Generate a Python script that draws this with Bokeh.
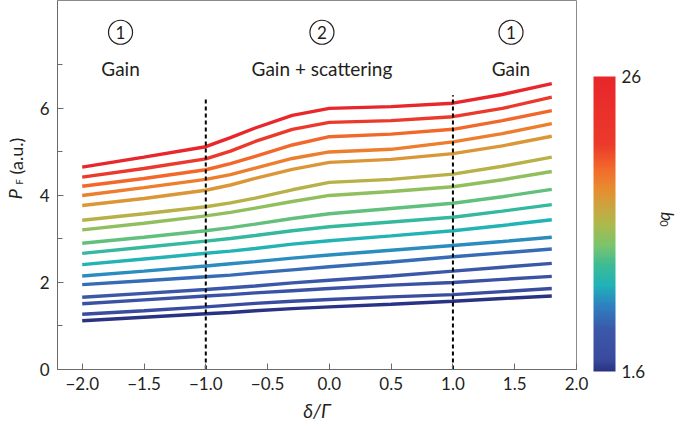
import math
from bokeh.plotting import figure
from bokeh.layouts import row
from bokeh.models import ColumnDataSource, LinearColorMapper, ColorBar, FixedTicker, Label
from bokeh.core.properties import value
from bokeh.embed import file_html
from bokeh.resources import INLINE

# ---------------- data ----------------
detuning = [-2.0, -1.5, -1.0, -0.8, -0.6, -0.3, 0.0, 0.5, 1.0, 1.4, 1.8]
b0 = [26.0, 20.6, 18.4, 17.4, 16.0, 14.3, 12.8, 11.4, 9.9, 8.9, 7.5, 6.0, 4.8, 3.8, 2.8, 1.6]

pf_01 = [4.65, 4.88, 5.12, 5.33, 5.55, 5.84, 6.00, 6.04, 6.12, 6.32, 6.57]
pf_02 = [4.42, 4.62, 4.84, 5.02, 5.24, 5.52, 5.68, 5.72, 5.81, 6.00, 6.26]
pf_03 = [4.21, 4.39, 4.59, 4.73, 4.90, 5.16, 5.35, 5.41, 5.52, 5.72, 5.95]
pf_04 = [4.00, 4.18, 4.37, 4.48, 4.63, 4.85, 5.00, 5.06, 5.23, 5.42, 5.65]
pf_05 = [3.77, 3.93, 4.12, 4.24, 4.39, 4.60, 4.76, 4.83, 4.96, 5.14, 5.36]
pf_06 = [3.43, 3.58, 3.74, 3.83, 3.94, 4.13, 4.30, 4.37, 4.49, 4.67, 4.88]
pf_07 = [3.21, 3.36, 3.53, 3.61, 3.71, 3.86, 4.00, 4.09, 4.20, 4.36, 4.55]
pf_08 = [2.90, 3.04, 3.19, 3.26, 3.34, 3.47, 3.58, 3.70, 3.82, 3.97, 4.14]
pf_09 = [2.67, 2.81, 2.95, 3.01, 3.08, 3.19, 3.28, 3.39, 3.50, 3.64, 3.79]
pf_10 = [2.41, 2.54, 2.67, 2.72, 2.78, 2.88, 2.96, 3.07, 3.19, 3.31, 3.44]
pf_11 = [2.15, 2.26, 2.38, 2.43, 2.48, 2.56, 2.63, 2.74, 2.85, 2.94, 3.04]
pf_12 = [1.95, 2.04, 2.13, 2.17, 2.22, 2.29, 2.36, 2.47, 2.59, 2.68, 2.77]
pf_13 = [1.66, 1.75, 1.84, 1.88, 1.92, 1.99, 2.05, 2.15, 2.26, 2.35, 2.44]
pf_14 = [1.51, 1.60, 1.69, 1.72, 1.76, 1.81, 1.86, 1.94, 2.00, 2.07, 2.14]
pf_15 = [1.27, 1.35, 1.44, 1.48, 1.52, 1.57, 1.61, 1.67, 1.72, 1.79, 1.86]
pf_16 = [1.12, 1.20, 1.28, 1.31, 1.35, 1.40, 1.44, 1.50, 1.57, 1.63, 1.69]

curves = [pf_01, pf_02, pf_03, pf_04, pf_05, pf_06, pf_07, pf_08,
          pf_09, pf_10, pf_11, pf_12, pf_13, pf_14, pf_15, pf_16]

boundaries = [-1.0, 1.0]
boundary_tops = [6.25, 6.30]

region_x = [-1.69, -0.06, 1.47]
region_num = ["1", "2", "1"]
region_name = ["Gain", "Gain + scattering", "Gain"]
region_num_y = 7.75
region_name_y = 6.92

x_ticks = [-2.0, -1.5, -1.0, -0.5, 0.0, 0.5, 1.0, 1.5, 2.0]
y_ticks = [0, 2, 4, 6]
y_minor = [1, 3, 5, 7]
b0_low, b0_high = 1.6, 26.0

# ---------------- colormap (style) ----------------
anchors = [(0.00, "#2a3383"), (0.04, "#3a4b9f"), (0.14, "#3b58a9"), (0.22, "#2f7fc1"),
           (0.29, "#20b2b8"), (0.36, "#3dbb95"), (0.43, "#7ec46b"), (0.50, "#aeb94c"),
           (0.56, "#cba43f"), (0.62, "#e88c30"), (0.69, "#f2682b"), (0.77, "#eb3a2b"),
           (1.00, "#e8262b")]


def hex2rgb(h):
    return tuple(int(h[i:i + 2], 16) for i in (1, 3, 5))


palette = []
for k in range(256):
    f = k / 255
    for (f0, c0), (f1, c1) in zip(anchors[:-1], anchors[1:]):
        if f0 <= f <= f1:
            t = (f - f0) / (f1 - f0)
            a, b = hex2rgb(c0), hex2rgb(c1)
            rgb = [round(a[i] + (b[i] - a[i]) * t) for i in range(3)]
            palette.append("#%02x%02x%02x" % tuple(rgb))
            break

mapper = LinearColorMapper(palette=palette, low=b0_low, high=b0_high)

FONT = "Lato"
TXT = "#231f20"
H = 427

# ---------------- main plot ----------------
p = figure(width=614, height=H, x_range=(-2.2, 2.0), y_range=(0, 8.48),
           output_backend="svg", toolbar_location=None,
           min_border_left=19, min_border_right=74, min_border_top=0, min_border_bottom=58)
p.grid.visible = False
p.outline_line_color = "#8a8a8a"

src = ColumnDataSource(dict(xs=[detuning] * len(curves), ys=curves, b0=b0))
p.multi_line("xs", "ys", source=src, line_width=3.4,
             line_color={"field": "b0", "transform": mapper})

p.segment(x0=boundaries, y0=[0, 0], x1=boundaries, y1=boundary_tops,
          line_color="black", line_width=2, line_dash="4 3")

p.scatter(x=region_x, y=[region_num_y] * 3, marker="circle", size=24,
          fill_color=None, line_color=TXT, line_width=1.2)
p.text(x=region_x, y=[region_num_y] * 3, text=region_num, text_align="center",
       text_baseline="middle", text_font=value(FONT), text_font_size="17px", text_color=TXT)
p.text(x=region_x, y=[region_name_y] * 3, text=region_name, text_align="center",
       text_baseline="middle", text_font=value(FONT), text_font_size="19px", text_color=TXT)

p.xaxis.ticker = FixedTicker(ticks=x_ticks)
p.xaxis.major_label_overrides = {t: ("%.1f" % t).replace("-", "\u2212") for t in x_ticks}
p.yaxis.ticker = FixedTicker(ticks=y_ticks, minor_ticks=y_minor)
for ax in (p.xaxis[0], p.yaxis[0]):
    ax.axis_line_color = "#6a6a6a"
    ax.major_tick_line_color = "#6a6a6a"
    ax.minor_tick_line_color = "#6a6a6a"
    ax.major_tick_in = 6
    ax.major_tick_out = 0
    ax.minor_tick_in = 5
    ax.minor_tick_out = 0
    ax.major_label_text_font = FONT
    ax.major_label_text_font_size = "17px"
    ax.major_label_text_color = TXT
p.xaxis.major_label_standoff = 7
p.yaxis.major_label_standoff = 8
p.xaxis.axis_label = "\u03b4/\u0393"
p.xaxis.axis_label_text_font = FONT
p.xaxis.axis_label_text_font_size = "19px"
p.xaxis.axis_label_text_font_style = "italic"
p.xaxis.axis_label_text_color = TXT
p.xaxis.axis_label_standoff = 6

cb = ColorBar(color_mapper=mapper, ticker=FixedTicker(ticks=[b0_low, b0_high]),
              major_label_overrides={b0_low: "1.6", b0_high: "26"},
              width=22, height=295, location=(17, -2), margin=0, padding=0,
              major_tick_line_color=None, minor_tick_line_color=None,
              bar_line_color=None, border_line_color=None, background_fill_color=None,
              label_standoff=6, major_label_text_font=FONT, major_label_text_font_size="17px",
              major_label_text_color=TXT)
p.add_layout(cb, "right")


def side_fig(w):
    f = figure(width=w, height=H, x_range=(0, w), y_range=(0, H), min_border=0,
               x_axis_type=None, y_axis_type=None, output_backend="svg",
               toolbar_location=None)
    f.grid.visible = False
    f.outline_line_color = None
    return f


def rot_label(fig, cx, cy, text, size, angle, italic=False):
    fig.add_layout(Label(x=cx, y=H - cy, text=text, text_font=FONT, text_font_size=size,
                         text_font_style="italic" if italic else "normal", text_color=TXT,
                         angle=angle, text_align="center", text_baseline="middle"))


# y-axis label  P_F (a.u.)   (positions in page pixels)
lf = side_fig(36)
rot_label(lf, 14, 224, "P", "18px", math.pi / 2, italic=True)
rot_label(lf, 18, 210, "F", "10px", math.pi / 2)
rot_label(lf, 15, 180, "(a.u.)", "18px", math.pi / 2)

# colour-bar label  b_0  (y offset compensates the rotated-label placement in this panel)
rf = side_fig(35)
rot_label(rf, 667 - 650, 250, "b", "17px", -math.pi / 2, italic=True)
rot_label(rf, 663 - 650, 258, "0", "11px", -math.pi / 2)

layout = row(lf, p, rf, spacing=0)
open("out.html", "w").write(file_html(layout, INLINE))
